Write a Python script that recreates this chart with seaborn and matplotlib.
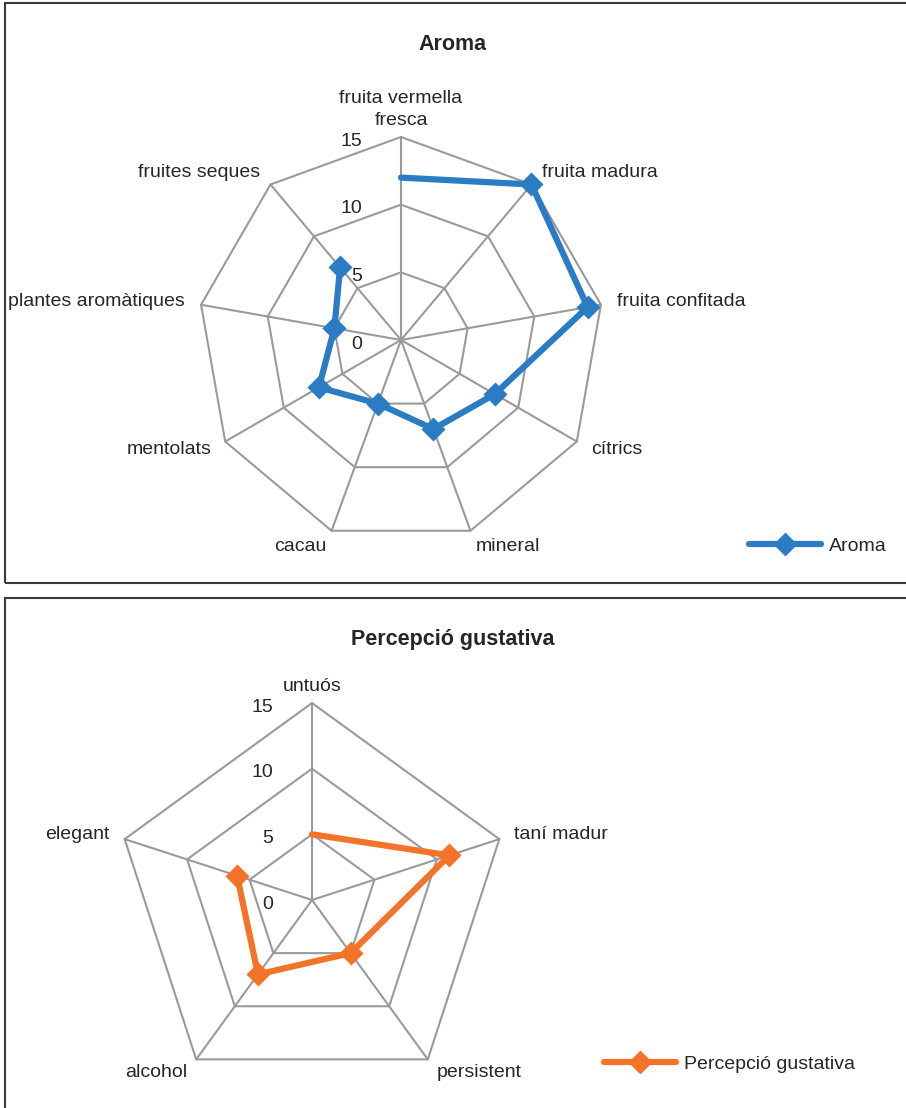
import numpy as np
import matplotlib
matplotlib.use("Agg")
import matplotlib.pyplot as plt
import seaborn as sns
from matplotlib.lines import Line2D
from matplotlib.patches import Rectangle

# data
aroma_labels = ["fruita vermella\nfresca", "fruita madura", "fruita confitada", "cítrics",
                "mineral", "cacau", "mentolats", "plantes aromàtiques", "fruites seques"]
aroma_values = [12, 15, 14, 8, 7, 5, 7, 5, 7]

gust_labels = ["untuós", "taní madur", "persistent", "alcohol", "elegant"]
gust_values = [5, 11, 5, 7, 6]

r_ticks = [0, 5, 10, 15]

sns.set_theme(style="white")
plt.rcParams['font.family'] = ['Liberation Sans', 'DejaVu Sans']
TXT = "#262626"
GRID = "#9a9a9a"
FS = 14

fig = plt.figure(figsize=(9.06, 11.08), dpi=100)
W, H = 906, 1108


def radar(rect, labels, values, color, name, legend_xy):
    ax = fig.add_axes(rect, projection="polar")
    ax.set_theta_zero_location("N")
    ax.set_theta_direction(-1)
    ax.set_ylim(0, 15)
    ax.grid(False)
    ax.spines["polar"].set_visible(False)
    ax.set_xticks([])
    ax.set_yticks([])
    ax.patch.set_alpha(0)

    n = len(labels)
    theta = np.linspace(0, 2 * np.pi, n, endpoint=False)
    theta_c = np.append(theta, theta[0])

    # polygon grid + spokes
    for r in r_ticks[1:]:
        ax.plot(theta_c, [r] * (n + 1), color=GRID, lw=1.5, zorder=1, clip_on=False)
    for t in theta:
        ax.plot([t, t], [0, 15], color=GRID, lw=1.5, zorder=1, clip_on=False)

    # radial tick labels left of the vertical axis
    for v in r_ticks:
        ax.annotate(str(v), xy=(0, v), xytext=(-28, -3), textcoords="offset points",
                    ha="right", va="center", fontsize=FS, color=TXT)

    # category labels
    for t, lab in zip(theta, labels):
        s = np.sin(t)
        if abs(s) < 0.1:
            ax.text(t, 15.6, lab, ha="center", va="bottom", fontsize=FS, color=TXT,
                    linespacing=1.35)
        else:
            ax.text(t, 16.2, lab, ha="left" if s > 0 else "right", va="center",
                    fontsize=FS, color=TXT)

    vals_c = list(values) + [values[0]]
    sns.lineplot(x=theta_c, y=vals_c, sort=False, ax=ax, color=color, lw=4.5,
                 zorder=3, clip_on=False, legend=False)
    sns.scatterplot(x=theta[1:], y=values[1:], ax=ax, color=color, marker="D",
                    s=150, edgecolor=color, linewidth=0, zorder=4, clip_on=False,
                    legend=False)
    ax.set_xlabel("")
    ax.set_ylabel("")

    handle = Line2D([], [], color=color, lw=4.5, marker="D", markersize=11,
                    solid_capstyle="round")
    fig.legend([handle], [name], loc="center left", bbox_to_anchor=legend_xy,
               frameon=False, fontsize=FS, handlelength=3.7, handletextpad=0.4,
               labelcolor=TXT, borderaxespad=0, borderpad=0)
    return ax


# top panel: centre (401, 340), radius 203 px
cx, cy, R = 401, 340, 203
radar([(cx - R) / W, (H - cy - R) / H, 2 * R / W, 2 * R / H],
      aroma_labels, aroma_values, "#2A7DC4", "Aroma", (749 / W, 1 - 546 / H))
fig.text(453 / W, 1 - 44 / H, "Aroma", ha="center", va="center",
         fontsize=15.5, fontweight="bold", color=TXT)

# bottom panel: centre (312, 900), radius 197 px
cx, cy, R = 312, 900, 197
radar([(cx - R) / W, (H - cy - R) / H, 2 * R / W, 2 * R / H],
      gust_labels, gust_values, "#F37328", "Percepció gustativa", (604 / W, 1 - 1064 / H))
fig.text(453 / W, 1 - 640 / H, "Percepció gustativa", ha="center", va="center",
         fontsize=15.5, fontweight="bold", color=TXT)

# frames around each chart
for y0, y1 in [(3, 583), (598, 1120)]:
    fig.patches.append(Rectangle((5 / W, 1 - y1 / H), 1.0, (y1 - y0) / H,
                                 transform=fig.transFigure, fill=False,
                                 edgecolor="#3a3a3a", lw=1.5, zorder=0))

fig.savefig("out.png", dpi=100)
